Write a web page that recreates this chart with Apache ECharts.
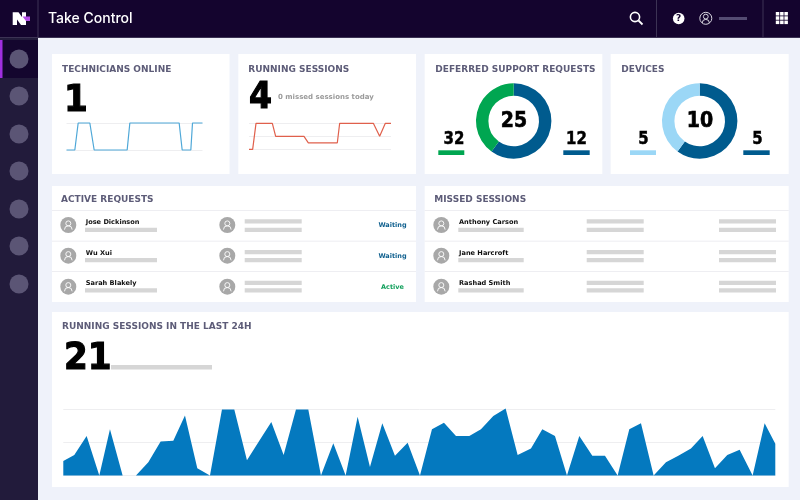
<!DOCTYPE html>
<html><head><meta charset="utf-8">
<style>html,body{margin:0;padding:0;background:#eff2fa}#c{width:800px;height:500px}</style>
<script src="https://cdn.jsdelivr.net/npm/echarts@6/dist/echarts.min.js"></script>
</head><body><div id="c"></div>
<script>
const techTimes=[0,25,35,70,83,182,190,338,347,373,378,408];
const techValues=[0,0,1,1,0,0,1,1,0,0,1,1];
const runTimes=[0,11,21,70,80,165,178,265,272,373,392,409,426];
const runValues=[0,0,4,4,2,2,1,1,4,4,2,4,4];
const deferredSlices=[15,10];
const deviceSlices=[6,4];
const deferredLegend=['32','12'];
const deviceLegend=['5','5'];
const headline={technicians:'1',running:'4',last24:'21',deferred:'25',devices:'10'};
const activeNames=['Jose Dickinson','Wu Xui','Sarah Blakely'];
const activeStatus=['Waiting','Waiting','Active'];
const missedNames=['Anthony Carson','Jane Harcroft','Rashad Smith'];
const last24Values=[2.2,3.1,6,0,7,0,0,2,5.15,5.25,9.1,1.1,0,10,10,2.3,5.25,8.1,3.1,10,10,0,4.9,0,8.9,1.3,7.9,3,4.95,0,7,8,6,6,7,9,10.15,3.1,4.1,7,6,0,6,3,3,0,7,7.9,0,2,3,4.1,6,1.1,3.1,3.9,0,7.9,4.8];
const last24Times=[0,33,70,108,140,178,218,255,292,330,365,402,440,476,513,551,588,624,661,698,735,773,810,847,883,920,957,995,1033,1070,1106,1142,1178,1218,1253,1290,1327,1363,1403,1437,1475,1511,1548,1587,1625,1663,1698,1733,1771,1808,1845,1883,1918,1955,1992,2029,2068,2104,2136];

const F="'DejaVu Sans'";
const BLUE='#005b8e',GREEN='#00a651',SKY='#9bd7f6',GREY='#d6d6d6';
const g=[];
const rect=(x,y,w,h,fill,z)=>g.push({type:'rect',shape:{x,y,width:w,height:h},style:{fill},z:z===undefined?-5:z,silent:true});
const txt=(text,x,y,font,fill,align,sx,sw)=>g.push({type:'text',x,y,z:20,scaleX:sx||1,silent:true,style:Object.assign({text,font,fill,textAlign:align||'left',textVerticalAlign:'middle'},sw?{stroke:fill,lineWidth:sw}:{})});
const circ=(cx,cy,r,fill,z)=>g.push({type:'circle',shape:{cx,cy,r},style:{fill},z:z===undefined?-3:z,silent:true});

// shell
rect(0,0,800,500,'#eff2fa',-9);
rect(0,38,38,462,'#221b3b',-8);
rect(0,40,38,38,'#14062e',-7);
rect(0,40,2.5,38,'#a02fe0',-6);
rect(0,0,800,37.5,'#14042e',-7);
rect(0,37,800,1,'#3c3354',-6);
rect(37.5,0,1,38,'#3c3354',-6);
rect(656,0,1,38,'#3c3354',-6);
rect(762.5,0,1,38,'#3c3354',-6);
[59,96,134,171,209,246,284].forEach(y=>circ(19,y,9.5,'#5b5575'));
g.push({type:'polygon',shape:{points:[[12.7,12.3],[18.5,12.3],[22,17],[22,12.3],[26,12.3],[26,25],[21,25],[17,19.5],[17,25],[12.7,25]]},style:{fill:'#fff'},z:-3,silent:true});
g.push({type:'polygon',shape:{points:[[22.5,16.5],[30,16.5],[30,21],[26,21]]},style:{fill:'#b44be8'},z:-2,silent:true});
txt('Take Control',48,18.5,"500 14px Inter",'#ffffff');
// header icons
g.push({type:'circle',shape:{cx:635,cy:17,r:4.6},style:{fill:'none',stroke:'#fff',lineWidth:1.6},z:-3,silent:true});
g.push({type:'line',shape:{x1:638.5,y1:20.5,x2:642.5,y2:24.5},style:{stroke:'#fff',lineWidth:1.8},z:-3,silent:true});
circ(678.7,18.5,5.8,'#ffffff');
txt('?',678.7,18.8,"bold 9px "+F,'#14042e','center');
g.push({type:'circle',shape:{cx:705.8,cy:18.3,r:6},style:{fill:'none',stroke:'#d8d6e0',lineWidth:1},z:-3,silent:true});
g.push({type:'circle',shape:{cx:705.8,cy:16.6,r:2.4},style:{fill:'none',stroke:'#d8d6e0',lineWidth:1},z:-3,silent:true});
g.push({type:'arc',shape:{cx:705.8,cy:23,r:3.6,startAngle:Math.PI,endAngle:2*Math.PI},style:{fill:'none',stroke:'#d8d6e0',lineWidth:1},z:-3,silent:true});
rect(719,17,28,3,'#544c72',-3);
[0,1,2].forEach(r=>[0,1,2].forEach(c=>rect(775.8+c*4.3,12+r*4.3,3.5,3.5,'#ffffff',-3)));

// cards
rect(52,54,177.5,120,'#fff');
rect(238.3,54,177.7,120,'#fff');
rect(424.7,54,177.6,120,'#fff');
rect(610.7,54,178,120,'#fff');
rect(52,186,364,116,'#fff');
rect(424.7,186,364,116,'#fff');
rect(52,312,736.7,175,'#fff');

const TITLE='bold 9px '+F, TC='#5d5c78';
txt('TECHNICIANS ONLINE',62,69.6,TITLE,TC);
txt('RUNNING SESSIONS',248.3,69.6,TITLE,TC);
txt('DEFERRED SUPPORT REQUESTS',435.3,69.6,TITLE,TC);
txt('DEVICES',621.3,69.6,TITLE,TC);
txt('ACTIVE REQUESTS',61,199.3,TITLE,TC);
txt('MISSED SESSIONS',434.3,199.3,TITLE,TC);
txt('RUNNING SESSIONS IN THE LAST 24H',62,327,TITLE,TC);

const BIG='bold 38px '+F;
txt(headline.technicians,64,101.5,BIG,'#000','left',0.9,1.2);
txt(headline.running,249,98.5,BIG,'#000','left',0.87,1.2);
txt(headline.last24,64,359,BIG,'#000','left',0.9,1.2);
txt('0 missed sessions today',278,97.5,'bold 7px '+F,'#9a9a9a');
rect(111,365,101,4.5,GREY);

const LEG='bold 17px '+F, CEN='bold 21.5px '+F;
txt(headline.deferred,514,121.5,CEN,'#000','center',0.88,0.7);
txt(headline.devices,700,121.5,CEN,'#000','center',0.88,0.7);
txt(deferredLegend[0],454,139.7,LEG,'#000','center',0.88,0.5);
txt(deferredLegend[1],576.5,139.7,LEG,'#000','center',0.88,0.5);
txt(deviceLegend[0],643.5,139.7,LEG,'#000','center',0.88,0.5);
txt(deviceLegend[1],757.5,139.7,LEG,'#000','center',0.88,0.5);
rect(438.3,150.3,26,4.7,GREEN);
rect(563.3,150.3,26.4,4.7,BLUE);
rect(630,150.3,26,4.7,SKY);
rect(743.3,150.3,26.4,4.7,BLUE);

// list rows
const seps=[210.3,240.7,271.3];
seps.forEach(y=>{rect(52,y,364,0.8,'#e8e8ee');rect(424.7,y,364,0.8,'#e8e8ee');});
const avatar=(cx,cy)=>{
  circ(cx,cy,8,'#a8a8a8');
  g.push({type:'circle',shape:{cx,cy:cy-1.6,r:2.5},style:{fill:'none',stroke:'#fff',lineWidth:0.9},z:-2,silent:true});
  g.push({type:'arc',shape:{cx,cy:cy+4.6,r:3.8,startAngle:Math.PI,endAngle:2*Math.PI},style:{fill:'none',stroke:'#fff',lineWidth:0.9},z:-2,silent:true});
};
const avY=[225,255.7,286.7], nameY=[222.3,253.3,283.3], bar1=[219.3,250,280.7], bar2=[227.7,258,288.3];
const NAME='bold 6.6px '+F;
[0,1,2].forEach(i=>{
  avatar(68.3,avY[i]); avatar(227.3,avY[i]); avatar(441.3,avY[i]);
  txt(activeNames[i],85.7,nameY[i],NAME,'#111');
  txt(missedNames[i],459,nameY[i],NAME,'#111');
  rect(85,bar2[i],72,4.3,GREY);
  rect(458.3,bar2[i],65.4,4.3,GREY);
  [244.7,586.7,719].forEach(x=>{rect(x,bar1[i],57,4.3,GREY);rect(x,bar2[i],57,4.3,GREY);});
  const active=activeStatus[i]==='Active';
  txt(activeStatus[i],392.5,avY[i]+0.5,'bold 6.5px '+F,active?'#12a05c':'#11618f','center');
});

const gl={show:true,lineStyle:{color:'#eeeef0',width:1}};
const option={
  animation:false,
  backgroundColor:'transparent',
  graphic:{elements:g},
  grid:[
    {left:66.5,top:123,width:136,height:27},
    {left:249,top:123.3,width:142,height:26},
    {left:63.3,top:376.5,width:712,height:99}
  ],
  xAxis:[
    {type:'value',gridIndex:0,min:0,max:408,show:false},
    {type:'value',gridIndex:1,min:0,max:426,show:false},
    {type:'value',gridIndex:2,min:0,max:2136,show:false}
  ],
  yAxis:[
    {type:'value',gridIndex:0,min:0,max:1,interval:1,axisLine:{show:false},axisTick:{show:false},axisLabel:{show:false},splitLine:gl},
    {type:'value',gridIndex:1,min:0,max:4,interval:2,axisLine:{show:false},axisTick:{show:false},axisLabel:{show:false},splitLine:gl},
    {type:'value',gridIndex:2,min:0,max:15,interval:5,axisLine:{show:false},axisTick:{show:false},axisLabel:{show:false},splitLine:{show:true,showMaxLine:false,lineStyle:{color:'#eeeef0',width:1}}}
  ],
  series:[
    {type:'line',xAxisIndex:0,yAxisIndex:0,data:techTimes.map((t,i)=>[t,techValues[i]]),symbol:'none',clip:false,lineStyle:{color:'#4fa8d8',width:1.2}},
    {type:'line',xAxisIndex:1,yAxisIndex:1,data:runTimes.map((t,i)=>[t,runValues[i]]),symbol:'none',clip:false,lineStyle:{color:'#e0604c',width:1.2}},
    {type:'line',xAxisIndex:2,yAxisIndex:2,data:last24Times.map((t,i)=>[t,last24Values[i]]),symbol:'none',clip:false,lineStyle:{width:0},areaStyle:{color:'#0479bf',opacity:1}},
    {type:'pie',center:[513.7,121],radius:[25.3,37.7],startAngle:90,clockwise:true,silent:true,label:{show:false},labelLine:{show:false},
      data:[{value:deferredSlices[0],itemStyle:{color:BLUE}},{value:deferredSlices[1],itemStyle:{color:GREEN}}]},
    {type:'pie',center:[699.7,121],radius:[25.3,37.7],startAngle:90,clockwise:true,silent:true,label:{show:false},labelLine:{show:false},
      data:[{value:deviceSlices[0],itemStyle:{color:BLUE}},{value:deviceSlices[1],itemStyle:{color:SKY}}]}
  ]
};
echarts.init(document.getElementById('c')).setOption(option);
</script></body></html>
